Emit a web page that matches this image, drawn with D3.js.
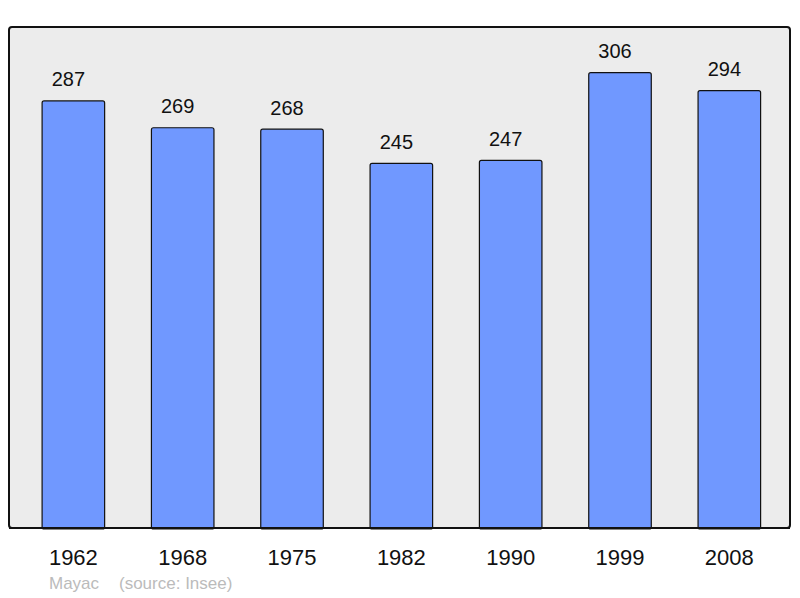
<!DOCTYPE html>
<html><head><meta charset="utf-8">
<script src="https://cdn.jsdelivr.net/npm/d3@7"></script>
<style>html,body{margin:0;padding:0;background:#fff}svg{display:block}</style>
</head><body>
<script>
const years = ["1962","1968","1975","1982","1990","1999","2008"];
const population = [287,269,268,245,247,306,294];
const footerName = "Mayac";
const footerSource = "(source: Insee)";

const W = 800, H = 598;
const svg = d3.select("body").append("svg").attr("width", W).attr("height", H);

const frame = {x0: 9, x1: 790, y0: 27, y1: 528};
svg.append("rect").attr("x", frame.x0).attr("y", frame.y0)
  .attr("width", frame.x1 - frame.x0).attr("height", frame.y1 - frame.y0)
  .attr("rx", 3).attr("fill", "#ececec").attr("stroke", "#111").attr("stroke-width", 2);

const x = d3.scaleBand().domain(years).range([18.7, 784]).paddingInner(0.428).paddingOuter(0.214);
const y = d3.scaleLinear().domain([0, 336.7]).range([frame.y1, frame.y0]);

const data = years.map((yr, i) => ({yr, v: population[i]}));

svg.append("g").selectAll("rect").data(data).join("rect")
  .attr("x", d => x(d.yr)).attr("y", d => y(d.v))
  .attr("width", x.bandwidth()).attr("height", d => y(0) - y(d.v) + 1)
  .attr("rx", 2).attr("fill", "#7098ff").attr("stroke", "#111").attr("stroke-width", 1.2);

svg.append("line").attr("x1", frame.x0).attr("x2", frame.x1).attr("y1", frame.y1).attr("y2", frame.y1)
  .attr("stroke", "#111").attr("stroke-width", 2.2);

svg.append("g").selectAll("text").data(data).join("text")
  .attr("x", d => x(d.yr) + x.bandwidth()/2 - 5).attr("y", d => y(d.v) - 14.5)
  .attr("text-anchor", "middle").attr("font-family", "Liberation Sans, Arial, sans-serif")
  .attr("font-size", 20).attr("fill", "#111").text(d => d.v);

const xAxis = d3.axisBottom(x).tickSize(0).tickPadding(0);
const gx = svg.append("g").attr("transform", `translate(0,${frame.y1})`).call(xAxis);
gx.select(".domain").remove();
gx.selectAll("text").attr("font-family", "Liberation Sans, Arial, sans-serif")
  .attr("font-size", 22).attr("fill", "#111").attr("dy", null).attr("y", 37);

svg.append("text").attr("x", 49).attr("y", 589).attr("font-family", "Liberation Sans, Arial, sans-serif")
  .attr("font-size", 17).attr("fill", "#bbbbbb").text(footerName);
svg.append("text").attr("x", 119).attr("y", 589).attr("font-family", "Liberation Sans, Arial, sans-serif")
  .attr("font-size", 17).attr("fill", "#bbbbbb").text(footerSource);
</script>
</body></html>
